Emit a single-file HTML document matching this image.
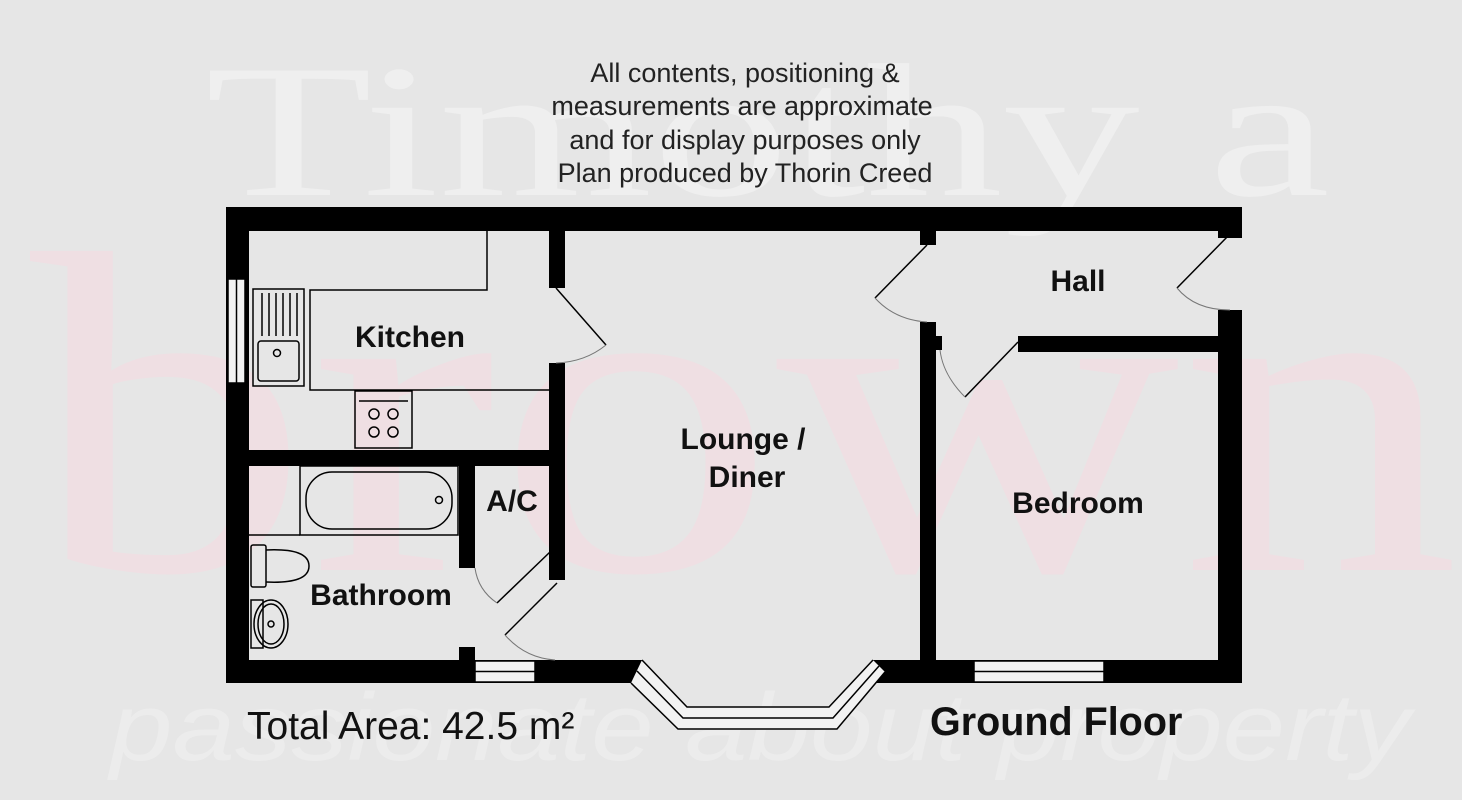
<!DOCTYPE html>
<html><head><meta charset="utf-8"><style>
html,body{margin:0;padding:0;background:#e6e6e6;}
svg{display:block;}
</style></head><body>
<svg width="1462" height="800" viewBox="0 0 1462 800" xmlns="http://www.w3.org/2000/svg" font-family="Liberation Sans, sans-serif">
<rect width="1462" height="800" fill="#e6e6e6"/>
<!-- watermark -->
<text x="205" y="195" font-family="Liberation Serif, serif" font-size="190" fill="#efefef" textLength="1125" lengthAdjust="spacingAndGlyphs">Timothy a</text>
<text x="30" y="570" font-family="Liberation Serif, serif" font-size="460" fill="#efdfe3" textLength="1430" lengthAdjust="spacingAndGlyphs">brown</text>
<text x="110" y="760" font-family="Liberation Sans, sans-serif" font-style="italic" font-size="96" fill="#ececec" textLength="1300" lengthAdjust="spacingAndGlyphs">passionate about property</text>
<!-- header -->
<g font-size="27" fill="#222" text-anchor="middle">
<text x="745" y="82">All contents, positioning &amp;</text>
<text x="742" y="115">measurements are approximate</text>
<text x="745" y="149">and for display purposes only</text>
<text x="745" y="182">Plan produced by Thorin Creed</text>
</g>
<!-- fixtures -->
<g fill="none" stroke="#000" stroke-width="1.5">
<polyline points="487,231 487,290 310,290 310,390 549,390"/>
<rect x="253" y="289" width="51" height="97" fill="#e6e6e6"/>
<rect x="258" y="341" width="41" height="40" rx="3"/>
<circle cx="277" cy="353" r="3.5"/>
<line x1="262" y1="293" x2="262" y2="336"/><line x1="269" y1="293" x2="269" y2="336"/><line x1="276" y1="293" x2="276" y2="336"/><line x1="283" y1="293" x2="283" y2="336"/><line x1="290" y1="293" x2="290" y2="336"/><line x1="297" y1="293" x2="297" y2="336"/>
<rect x="355" y="391" width="57" height="57"/>
<line x1="359" y1="401" x2="408" y2="401"/>
<circle cx="374" cy="414" r="5"/><circle cx="393" cy="414" r="5"/><circle cx="374" cy="432" r="5"/><circle cx="393" cy="432" r="5"/>
<rect x="300" y="466" width="158" height="69"/>
<rect x="306" y="472" width="146" height="57" rx="26"/>
<circle cx="439" cy="500" r="3.5"/>
<line x1="249" y1="535" x2="300" y2="535"/>
<rect x="251" y="545" width="15" height="42" rx="2"/>
<path d="M266 550 Q309 548 309 566 Q309 584 266 582"/>
<rect x="251" y="600" width="12" height="48"/>
<ellipse cx="271" cy="624" rx="17" ry="24"/>
<ellipse cx="271" cy="624" rx="13" ry="20"/>
<circle cx="271" cy="624" r="3"/>
</g>
<!-- walls -->
<g fill="#000">
<rect x="226" y="207" width="1016" height="24"/>
<rect x="226" y="207" width="23" height="476"/>
<rect x="226" y="660" width="416" height="23"/>
<rect x="873" y="660" width="369" height="23"/>
<rect x="1218" y="207" width="24" height="31"/>
<rect x="1218" y="310" width="24" height="373"/>
<rect x="549" y="231" width="16" height="57"/>
<rect x="549" y="363" width="16" height="217"/>
<rect x="249" y="450" width="316" height="16"/>
<rect x="459" y="466" width="16" height="102"/>
<rect x="459" y="647" width="16" height="13"/>
<rect x="920" y="231" width="16" height="14"/>
<rect x="920" y="322" width="16" height="338"/>
<rect x="936" y="336" width="6" height="14"/>
<rect x="1018" y="336" width="200" height="16"/>
</g>
<!-- windows -->
<g fill="#f2f2f2" stroke="#000" stroke-width="1.5">
<rect x="228" y="279" width="17" height="104"/>
<line x1="236.5" y1="279" x2="236.5" y2="383"/>
<rect x="475" y="661" width="60" height="21"/>
<line x1="475" y1="671.5" x2="535" y2="671.5"/>
<rect x="974" y="661" width="130" height="21"/>
<line x1="974" y1="671.5" x2="1104" y2="671.5"/>
</g>
<!-- bay -->
<polygon points="642,660 687,707 829,707 873,660 885,672 837,729 678,729 631,683" fill="#f2f2f2"/>
<g fill="none" stroke="#000" stroke-width="1.5">
<polyline points="642,660 687,707 829,707 873,660"/>
<polyline points="637,671 683,718 833,718 879,666"/>
<polyline points="631,683 678,729 837,729 885,672"/>
</g>
<!-- doors -->
<g fill="none" stroke="#000" stroke-width="1.5">
<line x1="556" y1="288" x2="606" y2="345"/>
<line x1="550" y1="552" x2="497" y2="603"/>
<line x1="557" y1="583" x2="505" y2="635"/>
<line x1="927" y1="245" x2="875" y2="298"/>
<line x1="1230" y1="234" x2="1177" y2="288"/>
<line x1="1018" y1="342" x2="965" y2="397"/>
</g>
<g fill="none" stroke="#777" stroke-width="1">
<path d="M606 345 Q585 362 556 363"/>
<path d="M475 568 Q478 590 497 603"/>
<path d="M505 635 Q525 658 555 660"/>
<path d="M875 298 Q895 320 927 322"/>
<path d="M1177 288 Q1195 310 1230 310"/>
<path d="M965 397 Q943 375 940 350"/>
</g>
<!-- labels -->
<g font-weight="bold" font-size="30" fill="#111" text-anchor="middle">
<text x="410" y="347">Kitchen</text>
<text x="1078" y="291">Hall</text>
<text x="743" y="449">Lounge /</text>
<text x="747" y="487">Diner</text>
<text x="512" y="511">A/C</text>
<text x="381" y="605">Bathroom</text>
<text x="1078" y="513">Bedroom</text>
</g>
<text x="247" y="739" font-size="39" fill="#111">Total Area: 42.5 m²</text>
<text x="930" y="735" font-size="39.5" font-weight="bold" fill="#111">Ground Floor</text>
</svg>
</body></html>
